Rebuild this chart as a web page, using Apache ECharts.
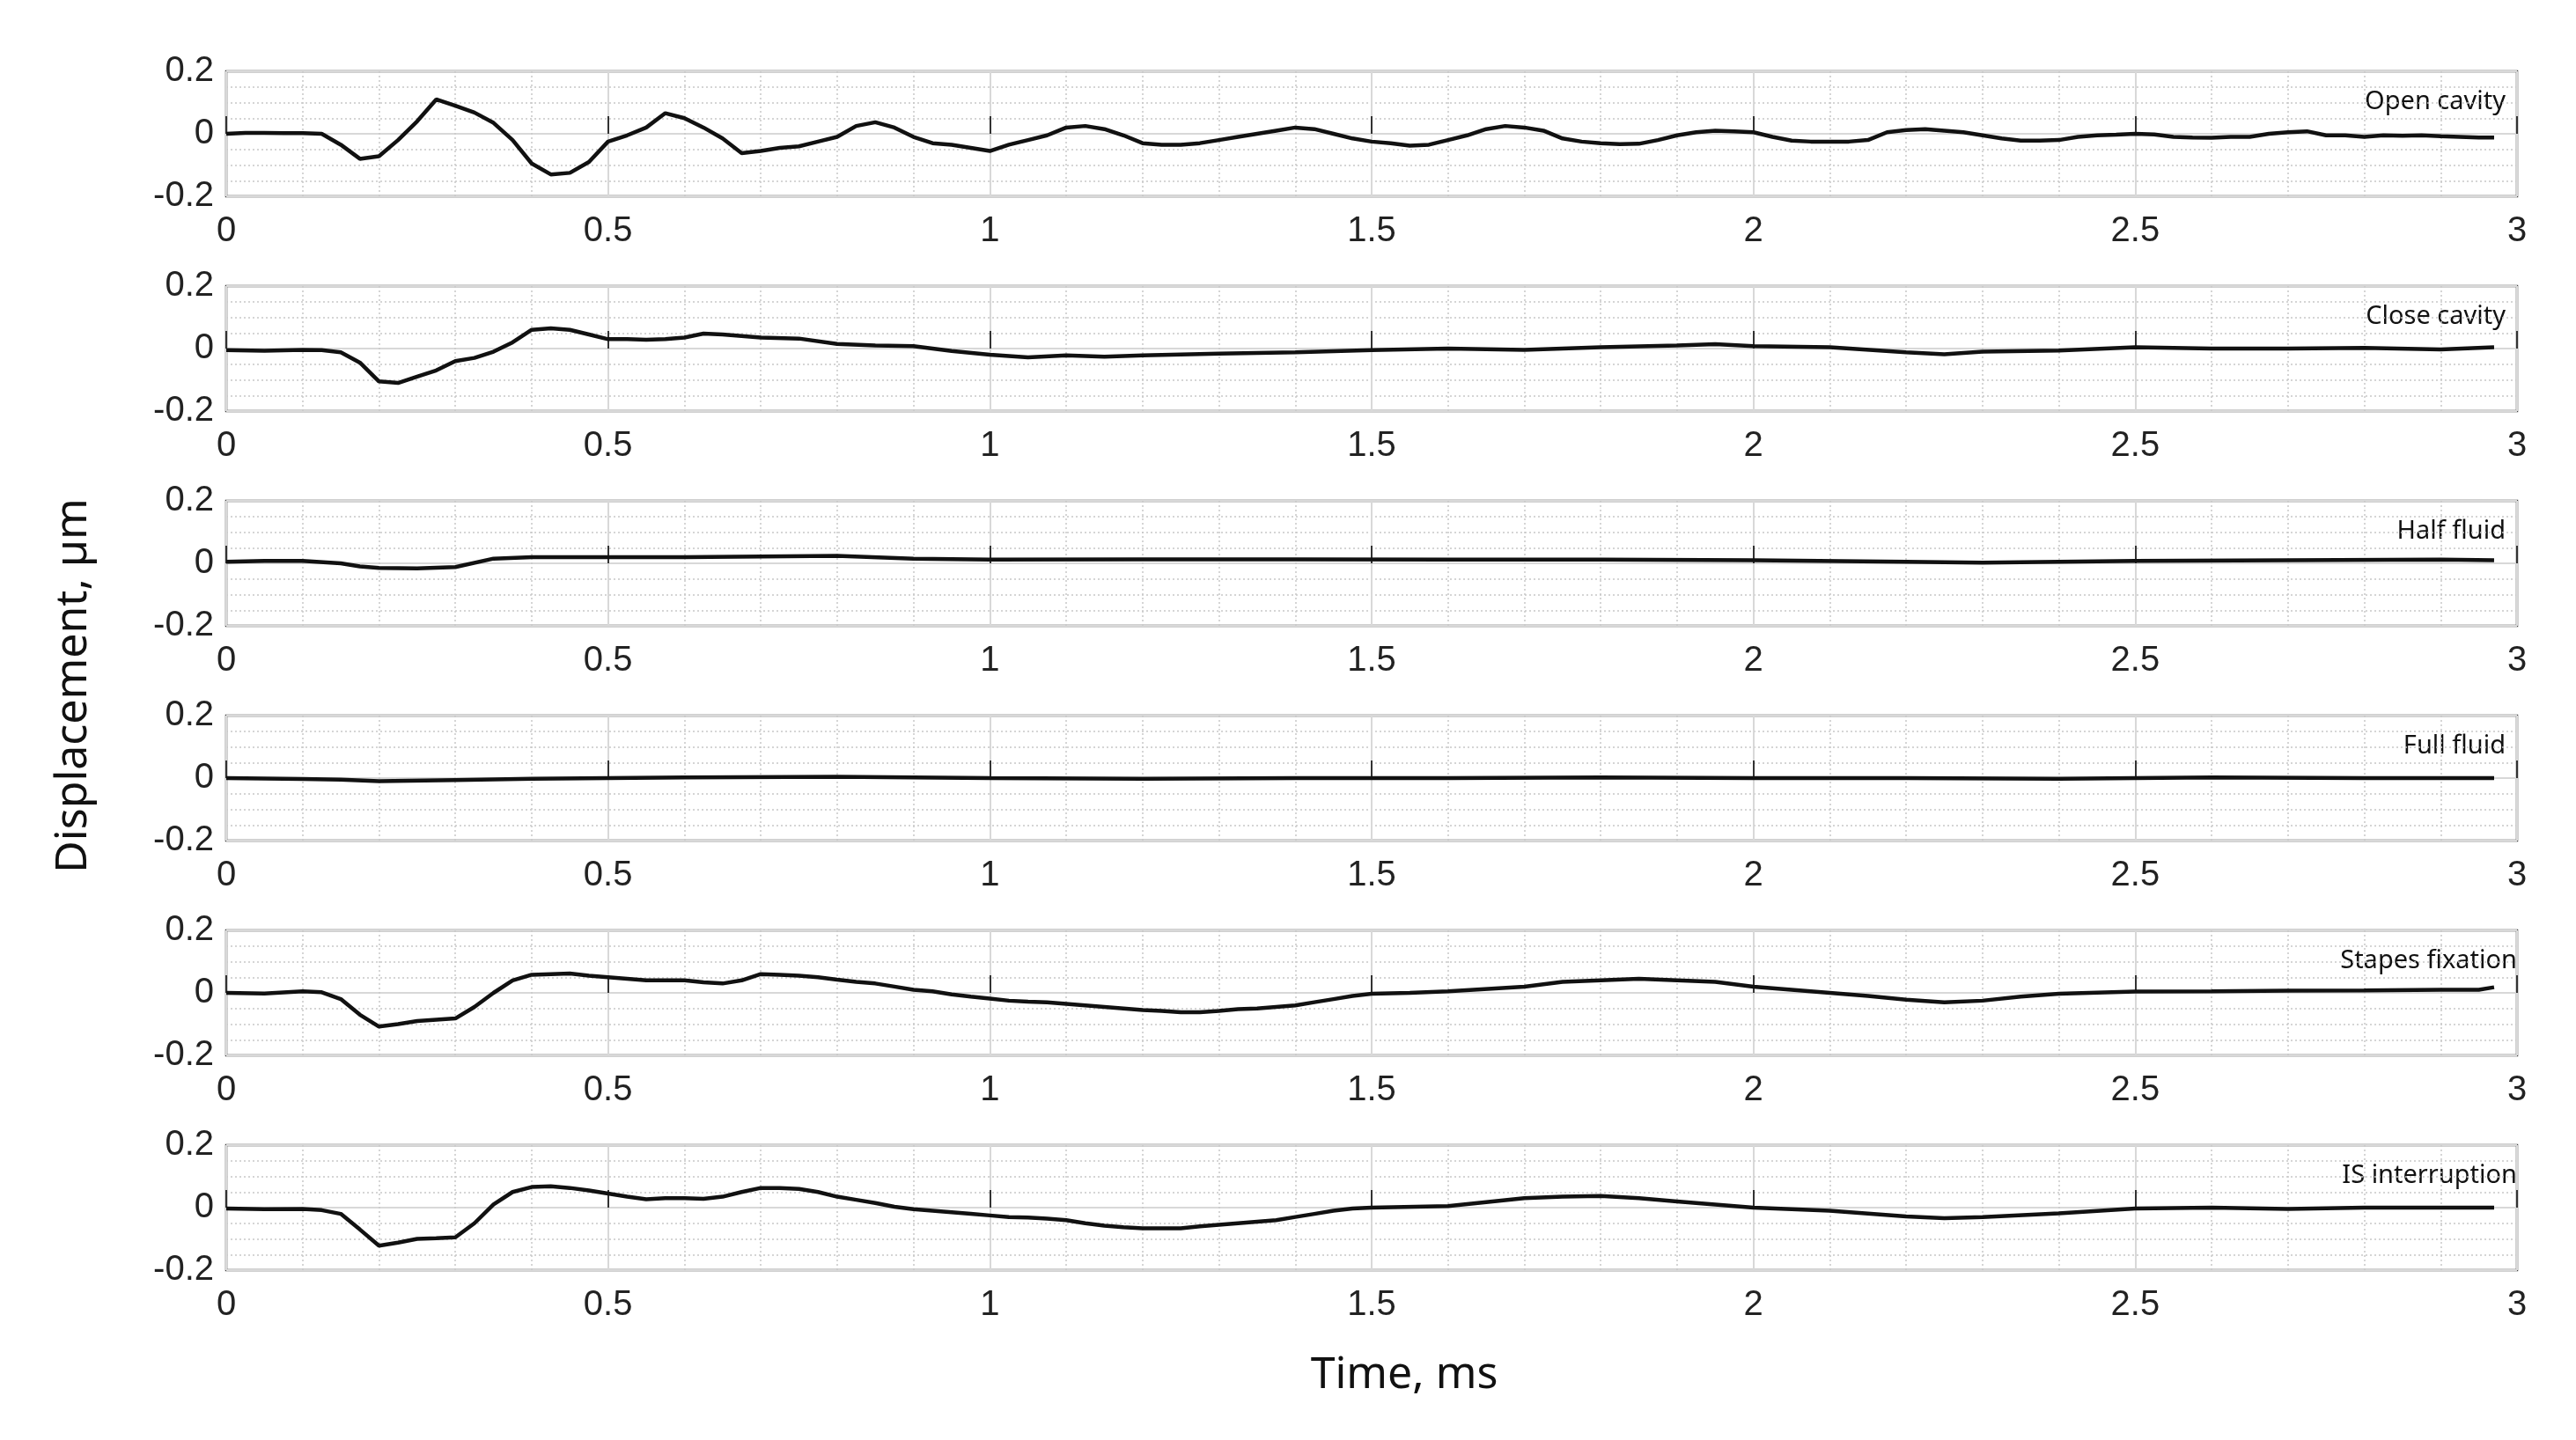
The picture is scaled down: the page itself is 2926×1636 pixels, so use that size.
<!DOCTYPE html>
<html><head><meta charset="utf-8">
<script src="https://cdn.jsdelivr.net/npm/echarts@6/dist/echarts.min.js"></script>
<style>html,body{margin:0;padding:0;background:#fff}#c{width:2926px;height:1636px}</style>
</head><body><div id="c"></div>
<script>
const panelNames = ["Open cavity","Close cavity","Half fluid","Full fluid","Stapes fixation","IS interruption"];
const xTicks = [0,0.5,1,1.5,2,2.5,3];
const yTicks = [-0.2,0,0.2];

const openT = [0,.025,.05,.075,.1,.125,.15,.175,.2,.225,.25,.275,.3,.325,.35,.375,.4,.425,.45,.475,.5,.525,.55,.575,.6,.625,.65,.675,.7,.725,.75,.775,.8,.825,.85,.875,.9,.925,.95,.975,1.0,1.025,1.05,1.075,1.1,1.125,1.15,1.175,1.2,1.225,1.25,1.275,1.3,1.325,1.35,1.375,1.4,1.425,1.45,1.475,1.5,1.525,1.55,1.575,1.6,1.625,1.65,1.675,1.7,1.725,1.75,1.775,1.8,1.825,1.85,1.875,1.9,1.925,1.95,1.975,2.0,2.025,2.05,2.075,2.1,2.125,2.15,2.175,2.2,2.225,2.25,2.275,2.3,2.325,2.35,2.375,2.4,2.425,2.45,2.475,2.5,2.525,2.55,2.575,2.6,2.625,2.65,2.675,2.7,2.725,2.75,2.775,2.8,2.825,2.85,2.875,2.9,2.925,2.95,2.97];
const openV = [0,.003,.003,.002,.002,0,-.035,-.08,-.072,-.02,.04,.11,.09,.068,.035,-.02,-.095,-.13,-.125,-.09,-.025,-.005,.02,.066,.05,.02,-.015,-.062,-.055,-.045,-.04,-.025,-.01,.025,.037,.02,-.01,-.03,-.035,-.045,-.055,-.035,-.02,-.005,.02,.025,.015,-.005,-.03,-.035,-.035,-.03,-.02,-.01,0,.01,.02,.015,0,-.015,-.025,-.03,-.038,-.035,-.02,-.005,.015,.025,.02,.01,-.015,-.025,-.03,-.033,-.032,-.02,-.005,.005,.01,.008,.005,-.01,-.022,-.025,-.025,-.025,-.02,.005,.012,.015,.01,.005,-.005,-.015,-.022,-.022,-.02,-.01,-.005,-.003,0,-.002,-.01,-.012,-.013,-.01,-.01,0,.005,.008,-.005,-.005,-.01,-.005,-.006,-.005,-.008,-.01,-.012,-.012];

const closeT = [0,.05,.1,.125,.15,.175,.2,.225,.25,.275,.3,.325,.35,.375,.4,.425,.45,.475,.5,.525,.55,.575,.6,.625,.65,.7,.75,.8,.85,.9,.95,1.0,1.05,1.1,1.15,1.2,1.3,1.4,1.5,1.6,1.7,1.8,1.9,1.95,2.0,2.1,2.2,2.25,2.3,2.4,2.5,2.6,2.7,2.8,2.9,2.97];
const closeV = [-.005,-.007,-.004,-.005,-.012,-.045,-.105,-.11,-.09,-.07,-.04,-.03,-.01,.02,.06,.065,.06,.045,.03,.03,.028,.03,.035,.048,.045,.035,.032,.015,.01,.008,-.008,-.02,-.028,-.022,-.026,-.022,-.016,-.012,-.005,.0,-.004,.004,.01,.014,.008,.004,-.012,-.018,-.01,-.006,.004,.0,.0,.002,-.003,.004];

const halfT = [0,.05,.1,.15,.175,.2,.25,.3,.35,.4,.5,.6,.7,.8,.9,1.0,1.2,1.4,1.6,1.8,2.0,2.2,2.3,2.5,2.7,2.9,2.97];
const halfV = [.005,.008,.008,.0,-.01,-.015,-.016,-.012,.015,.02,.02,.02,.022,.024,.015,.012,.013,.013,.012,.012,.01,.005,.002,.008,.01,.012,.01];

const fullT = [0,.1,.15,.2,.3,.4,.5,.6,.8,1.0,1.2,1.4,1.6,1.8,2.0,2.2,2.4,2.6,2.8,2.97];
const fullV = [0,-.003,-.005,-.01,-.006,-.002,.0,.002,.004,.0,-.002,.0,.0,.002,.0,.0,-.002,.002,.0,.0];

const stapesT = [0,.05,.1,.125,.15,.175,.2,.225,.25,.275,.3,.325,.35,.375,.4,.425,.45,.475,.5,.525,.55,.575,.6,.625,.65,.675,.7,.725,.75,.775,.8,.825,.85,.875,.9,.925,.95,.975,1.0,1.025,1.05,1.075,1.1,1.125,1.15,1.175,1.2,1.225,1.25,1.275,1.3,1.325,1.35,1.375,1.4,1.425,1.45,1.475,1.5,1.55,1.6,1.7,1.75,1.8,1.85,1.9,1.95,2.0,2.05,2.1,2.15,2.2,2.25,2.3,2.35,2.4,2.5,2.6,2.7,2.8,2.9,2.95,2.97];
const stapesV = [0,-.002,.005,.002,-.02,-.07,-.108,-.1,-.09,-.086,-.082,-.045,.0,.04,.058,.06,.062,.055,.05,.045,.04,.04,.04,.034,.03,.04,.06,.058,.055,.05,.042,.035,.03,.02,.01,.005,-.005,-.012,-.018,-.025,-.028,-.03,-.035,-.04,-.045,-.05,-.055,-.058,-.062,-.062,-.058,-.052,-.05,-.045,-.04,-.03,-.02,-.01,-.003,.0,.005,.02,.035,.04,.045,.04,.035,.02,.01,.0,-.01,-.022,-.03,-.025,-.012,-.003,.004,.005,.007,.008,.01,.01,.018];

const isT = [0,.05,.1,.125,.15,.175,.2,.225,.25,.275,.3,.325,.35,.375,.4,.425,.45,.475,.5,.525,.55,.575,.6,.625,.65,.675,.7,.725,.75,.775,.8,.825,.85,.875,.9,.925,.95,.975,1.0,1.025,1.05,1.075,1.1,1.125,1.15,1.175,1.2,1.225,1.25,1.275,1.3,1.325,1.35,1.375,1.4,1.425,1.45,1.475,1.5,1.6,1.7,1.75,1.8,1.85,1.9,2.0,2.1,2.2,2.25,2.3,2.4,2.5,2.6,2.7,2.8,2.9,2.97];
const isV = [-.003,-.005,-.004,-.008,-.02,-.07,-.122,-.112,-.1,-.098,-.095,-.05,.01,.05,.066,.068,.063,.055,.045,.035,.027,.03,.03,.028,.035,.05,.063,.063,.06,.05,.035,.025,.015,.003,-.005,-.01,-.015,-.02,-.025,-.03,-.032,-.035,-.04,-.05,-.058,-.063,-.066,-.066,-.066,-.06,-.055,-.05,-.045,-.04,-.03,-.02,-.01,-.003,.0,.005,.03,.035,.037,.03,.02,.0,-.01,-.028,-.034,-.03,-.018,-.003,.0,-.004,.0,.0,.0];

const seriesT = [openT,closeT,halfT,fullT,stapesT,isT];
const seriesV = [openV,closeV,halfV,fullV,stapesV,isV];

const L=257, W=2602, TOP0=81, STEP=244, H=142;
const FONT='"Liberation Sans Narrow","Liberation Sans",Arial,sans-serif';
const grids=[], xAxes=[], yAxes=[], series=[], graphics=[];
for(let i=0;i<6;i++){
  const top=TOP0+i*STEP;
  grids.push({left:L,top:top,width:W,height:H,show:true,borderColor:'#444',borderWidth:2.5,backgroundColor:'#fff'});
  xAxes.push({gridIndex:i,type:'value',min:0,max:3,interval:0.5,
    axisLine:{show:false},
    axisTick:{show:true,inside:true,length:20,lineStyle:{color:'#333',width:2}},
    axisLabel:{fontSize:40,color:'#222',margin:20,fontFamily:FONT,formatter:v=>String(v)},
    splitLine:{show:true,lineStyle:{color:'#d8d8d8',width:2}},
    minorTick:{show:false,splitNumber:5},
    minorSplitLine:{show:true,lineStyle:{color:'#c8c8c8',width:1.5,type:[2,3]}}});
  yAxes.push({gridIndex:i,type:'value',min:-0.2,max:0.2,interval:0.2,
    axisLine:{show:false},
    axisTick:{show:false},
    axisLabel:{fontSize:40,color:'#222',margin:14,fontFamily:FONT,formatter:v=>v===0?'0':v.toFixed(1)},
    splitLine:{show:true,lineStyle:{color:'#d8d8d8',width:2}},
    minorSplitLine:{show:true,lineStyle:{color:'#c8c8c8',width:1.5,type:[2,3]}},
    minorTick:{show:false,splitNumber:4}});
  series.push({type:'line',xAxisIndex:i,yAxisIndex:i,showSymbol:false,silent:true,
    lineStyle:{color:'#111',width:4.5},
    data:seriesT[i].map((t,k)=>[t,seriesV[i][k]])});
  graphics.push({type:'text',right:2926-(i>=4?2859:2846),top:top+20,
    style:{text:panelNames[i],fontSize:29,fill:'#111',fontFamily:'Noto Sans',textAlign:'right'}});
}
graphics.push({type:'text',x:1595,y:1563,style:{text:'Time, ms',fontSize:50,fill:'#111',fontFamily:'Noto Sans',textAlign:'center',textVerticalAlign:'middle'}});
graphics.push({type:'text',x:84,y:779,rotation:Math.PI/2,style:{text:'Displacement, µm',fontSize:50,fill:'#111',fontFamily:'Noto Sans',textAlign:'center',textVerticalAlign:'middle'}});

const chart=echarts.init(document.getElementById('c'));
chart.setOption({animation:false,backgroundColor:'#fff',grid:grids,xAxis:xAxes,yAxis:yAxes,series:series,graphic:graphics});
</script></body></html>
